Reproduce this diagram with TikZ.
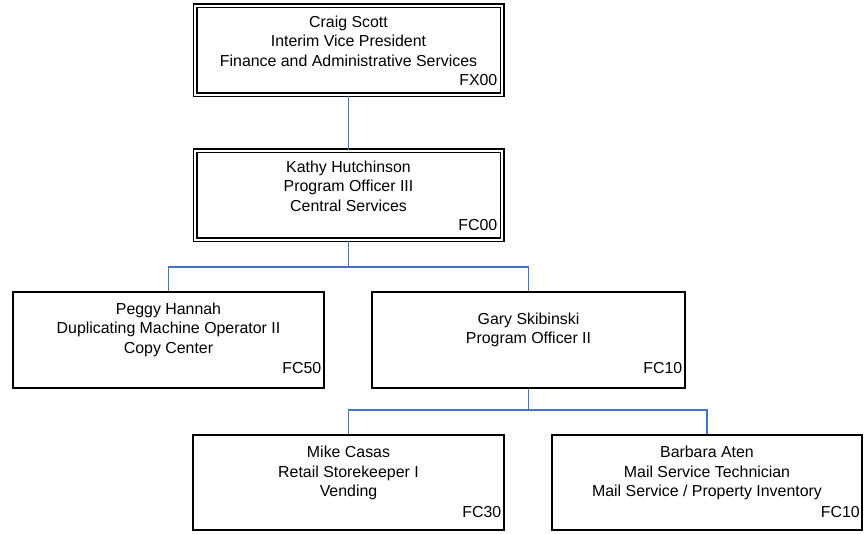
\documentclass[tikz,border=0pt]{standalone}
\usepackage{fontspec}
\setmainfont{Liberation Sans}
\usetikzlibrary{calc}
\definecolor{connblue}{RGB}{68,114,196}
\begin{document}
\begin{tikzpicture}[x=1pt,y=-1pt,
  sbox/.style={draw=black, line width=1.4pt, inner sep=0pt, minimum height=96pt},
  dbox/.style={draw=black, line width=1.2pt, double=white, double distance=2.6pt, inner sep=0pt, minimum width=307pt, minimum height=89pt},
  txt/.style={align=center, inner sep=0pt, font=\fontsize{15.9}{19.4}\selectfont},
  codetxt/.style={anchor=east, inner sep=0pt, font=\fontsize{15.9}{19.4}\selectfont},
  conn/.style={draw=connblue, line width=1.7pt}]
\useasboundingbox (0,0) rectangle (864,534);

% boxes
\node[dbox] (craig) at (348.5,50.5) {};
\node[dbox] (kathy) at (348.5,195.5) {};
\node[sbox, minimum width=311pt] (peggy) at (168.5,340) {};
\node[sbox, minimum width=313pt] (gary) at (528.5,340) {};
\node[sbox, minimum width=311pt, minimum height=95pt] (mike) at (348.5,482.5) {};
\node[sbox, minimum width=310pt, minimum height=95pt] (barbara) at (707,482.5) {};

% texts
\node[txt] (craigt) at ($(craig.center)+(0,-9.5)$) {Craig Scott\\Interim Vice President\\Finance and Administrative Services};
\node[codetxt] (craigc) at ($(craig.center)+(149,29.5)$) {FX00};
\node[txt] (kathyt) at ($(kathy.center)+(0,-9.5)$) {Kathy Hutchinson\\Program Officer III\\Central Services};
\node[codetxt] (kathyc) at ($(kathy.center)+(149,29.5)$) {FC00};
\node[txt] (peggyt) at ($(peggy.center)+(0,-10.5)$) {Peggy Hannah\\Duplicating Machine Operator II\\Copy Center};
\node[codetxt] (peggyc) at ($(peggy.center)+(153,28)$) {FC50};
\node[txt] (garyt) at ($(gary.center)+(0,-10)$) {Gary Skibinski\\Program Officer II};
\node[codetxt] (garyc) at ($(gary.center)+(154,28)$) {FC10};
\node[txt] (miket) at ($(mike.center)+(0,-9.5)$) {Mike Casas\\Retail Storekeeper I\\Vending};
\node[codetxt] (mikec) at ($(mike.center)+(153,29.5)$) {FC30};
\node[txt] (barbarat) at ($(barbara.center)+(0,-9.5)$) {Barbara Aten\\Mail Service Technician\\Mail Service / Property Inventory};
\node[codetxt] (barbarac) at ($(barbara.center)+(153,29.5)$) {FC10};

% connectors
\draw[conn] (craig.south) -- (kathy.north);
\draw[conn] (kathy.south) |- ($(peggy.north)+(0,-24)$) -| (peggy.north);
\draw[conn] (kathy.south) |- ($(gary.north)+(0,-24)$) -| (gary.north);
\draw[conn] (gary.south) |- ($(mike.north)+(0,-24)$) -| (mike.north);
\draw[conn] (gary.south) |- ($(barbara.north)+(0,-24)$) -| (barbara.north);
\end{tikzpicture}
\end{document}
